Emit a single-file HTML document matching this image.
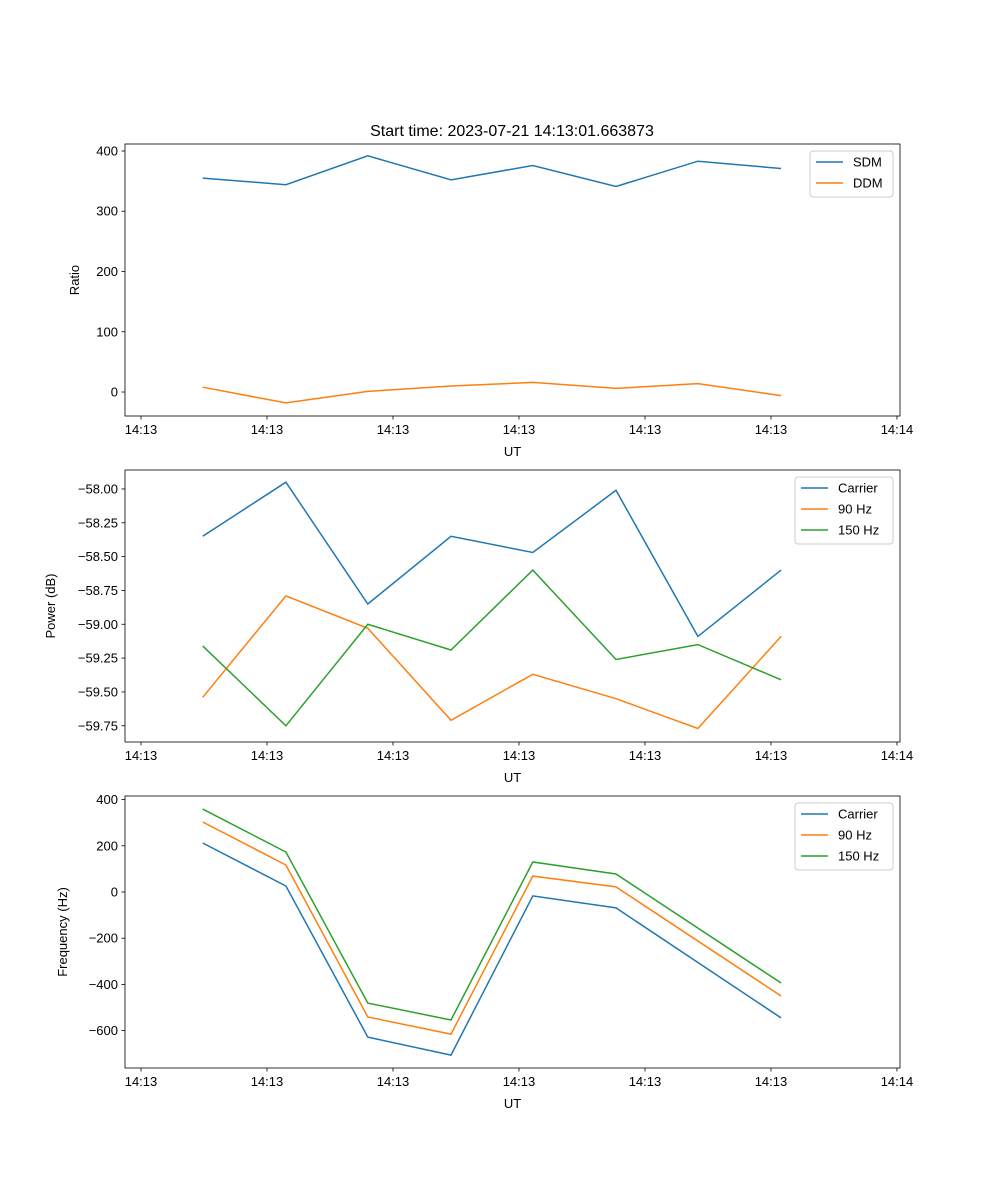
<!DOCTYPE html>
<html><head><meta charset="utf-8"><style>
html,body{margin:0;padding:0;background:#fff}
svg{display:block;font-family:"Liberation Sans","DejaVu Sans",sans-serif}
</style></head><body>
<svg id="fig" width="1000" height="1200" viewBox="0 0 1000 1200" xmlns="http://www.w3.org/2000/svg">
<rect width="1000" height="1200" fill="#fff"/>
<text x="512" y="136" font-size="16" text-anchor="middle">Start time: 2023-07-21 14:13:01.663873</text>
</svg>
<script>
// shared x data (seconds after 14:13:00)
const times = [4.9, 11.5, 18.0, 24.6, 31.1, 37.7, 44.2, 50.8];
const xTicks = [0, 10, 20, 30, 40, 50, 60];
const xTickLabels = ['14:13','14:13','14:13','14:13','14:13','14:13','14:14'];
// panel 1
const ratioTicks = [0, 100, 200, 300, 400];
const sdm = [355, 344, 392, 352, 376, 341, 383, 371];
const ddm = [8, -18, 1, 10, 16, 6, 14, -6];
// panel 2
const powerTicks = [-59.75, -59.5, -59.25, -59.0, -58.75, -58.5, -58.25, -58.0];
const powCarrier = [-58.35, -57.95, -58.85, -58.35, -58.47, -58.01, -59.09, -58.60];
const pow90 = [-59.54, -58.79, -59.03, -59.71, -59.37, -59.55, -59.77, -59.09];
const pow150 = [-59.16, -59.75, -59.00, -59.19, -58.60, -59.26, -59.15, -59.41];
// panel 3
const freqTicks = [-600, -400, -200, 0, 200, 400];
const freqCarrier = [212, 26, -628, -706, -17, -69, null, -545];
const freq90 = [303, 117, -541, -615, 69, 22, null, -450];
const freq150 = [359, 173, -481, -554, 130, 78, null, -394];

const NS = 'http://www.w3.org/2000/svg';
const svg = document.getElementById('fig');
const L = 125, R = 900, xmin = -1.27, xmax = 60.24;
function xs(t){ return L + (t - xmin) / (xmax - xmin) * (R - L); }
function mk(tag, attrs, parent){
  const e = document.createElementNS(NS, tag);
  for (const k in attrs) e.setAttribute(k, attrs[k]);
  (parent || svg).appendChild(e);
  return e;
}
const C = ['#1f77b4', '#ff7f0e', '#2ca02c'];

function panel(key, top, bot, ymin, ymax, yTicks, fmt, ylabel, ylabX, series, names, legW){
  const g = mk('g', {});
  
  
  const ys = v => bot - (v - ymin) / (ymax - ymin) * (bot - top);
  series.forEach((arr, si) => {
    let d = '';
    let started = false;
    arr.forEach((v, i) => {
      if (v === null) return;
      d += (started ? 'L' : 'M') + xs(times[i]).toFixed(1) + ',' + ys(v).toFixed(1);
      started = true;
    });
    const p = mk('path', {d: d, fill: 'none', stroke: C[si], 'stroke-width': 1.5}, g);
    
    
  });
  const fr = mk('rect', {x: L, y: top, width: R - L, height: bot - top, fill: 'none', stroke: '#000', 'stroke-width': 0.8}, g);
  
  
  xTicks.forEach((t, i) => {
    const x = xs(t);
    mk('line', {x1: x, x2: x, y1: bot, y2: bot + 3.5, stroke: '#000', 'stroke-width': 0.8}, g);
    const tx = mk('text', {x: x, y: bot + 18, 'font-size': 13, 'text-anchor': 'middle'}, g);
    tx.textContent = xTickLabels[i];
    
    
  });
  const xl = mk('text', {x: (L + R) / 2, y: bot + 40, 'font-size': 13, 'text-anchor': 'middle'}, g);
  xl.textContent = 'UT';
  
  
  yTicks.forEach(v => {
    const y = ys(v);
    mk('line', {x1: L - 3.5, x2: L, y1: y, y2: y, stroke: '#000', 'stroke-width': 0.8}, g);
    const tx = mk('text', {x: L - 7, y: y + 4.5, 'font-size': 13, 'text-anchor': 'end'}, g);
    tx.textContent = fmt(v);
    
    
  });
  const cy = (top + bot) / 2;
  const yl = mk('text', {x: ylabX, y: cy, 'font-size': 13, 'text-anchor': 'middle', transform: 'rotate(-90 ' + ylabX + ' ' + cy + ')'}, g);
  yl.textContent = ylabel;
  
  
  const lx = R - 7 - legW, ly = top + 7, lh = 4 + names.length * 21;
  const lg = mk('g', {}, g);
  
  
  mk('rect', {x: lx, y: ly, width: legW, height: lh, rx: 3, fill: '#fff', 'fill-opacity': 0.8, stroke: '#ccc'}, lg);
  names.forEach((n, i) => {
    const yy = ly + 11 + i * 21;
    mk('line', {x1: lx + 6, x2: lx + 33, y1: yy, y2: yy, stroke: C[i], 'stroke-width': 1.5}, lg);
    const t = mk('text', {x: lx + 43, y: yy + 4.5, 'font-size': 13}, lg);
    t.textContent = n;
    
    
  });
}

panel('ratio', 144, 416, -39.8, 411.6, ratioTicks, v => String(v), 'Ratio', 79,
  [sdm, ddm], ['SDM', 'DDM'], 83);
panel('power', 470, 742, -59.87, -57.86, powerTicks, v => '\u2212' + Math.abs(v).toFixed(2), 'Power (dB)', 55,
  [powCarrier, pow90, pow150], ['Carrier', '90 Hz', '150 Hz'], 98);
panel('frequency', 796, 1068, -761.9, 415.6, freqTicks, v => (v < 0 ? '\u2212' + Math.abs(v) : String(v)), 'Frequency (Hz)', 67,
  [freqCarrier, freq90, freq150], ['Carrier', '90 Hz', '150 Hz'], 98);
</script>
</body></html>
